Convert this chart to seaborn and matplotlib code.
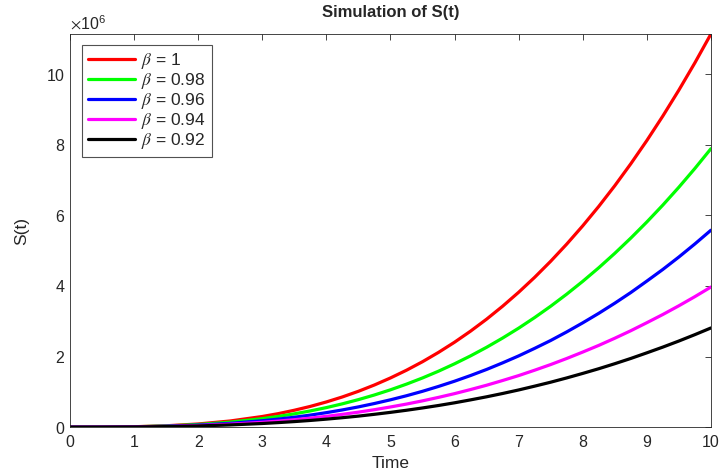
import matplotlib
matplotlib.use("Agg")
import matplotlib.pyplot as plt
import seaborn as sns
import pandas as pd
from matplotlib.ticker import ScalarFormatter

# time grid where values were read
time = [0, 0.5, 1, 1.5, 2, 2.5, 3, 3.25, 3.5, 3.75, 4, 4.25, 4.5, 4.75, 5, 5.25, 5.5, 5.75,
        6, 6.25, 6.5, 6.75, 7, 7.25, 7.5, 7.75, 8, 8.25, 8.5, 8.75, 9, 9.25, 9.5, 9.75, 10]

# S(t) values in units of 1e6
s_b100 = [0, 0.0014, 0.0111, 0.0376, 0.0891, 0.174, 0.301, 0.382, 0.478, 0.587, 0.713, 0.855,
          1.015, 1.194, 1.393, 1.612, 1.853, 2.118, 2.406, 2.720, 3.059, 3.426, 3.821, 4.245,
          4.700, 5.186, 5.704, 6.255, 6.841, 7.463, 8.121, 8.817, 9.551, 10.325, 11.14]
s_b098 = [0, 0.0013, 0.0099, 0.032, 0.074, 0.142, 0.240, 0.303, 0.376, 0.459, 0.553, 0.660,
          0.779, 0.911, 1.057, 1.218, 1.393, 1.585, 1.794, 2.019, 2.262, 2.524, 2.804, 3.105,
          3.426, 3.768, 4.131, 4.516, 4.925, 5.357, 5.813, 6.293, 6.799, 7.331, 7.89]
s_b096 = [0, 0.0011, 0.0079, 0.025, 0.057, 0.107, 0.181, 0.227, 0.280, 0.341, 0.410, 0.487,
          0.573, 0.669, 0.774, 0.889, 1.015, 1.153, 1.301, 1.462, 1.634, 1.821, 2.018, 2.232,
          2.455, 2.698, 2.955, 3.225, 3.512, 3.814, 4.138, 4.469, 4.821, 5.192, 5.58]
s_b094 = [0, 0.0009, 0.0063, 0.0196, 0.0439, 0.0819, 0.1364, 0.171, 0.2099, 0.255, 0.305, 0.362,
          0.424, 0.494, 0.571, 0.653, 0.744, 0.843, 0.949, 1.065, 1.187, 1.321, 1.460, 1.613,
          1.773, 1.945, 2.127, 2.316, 2.519, 2.732, 2.959, 3.192, 3.439, 3.698, 3.97]
s_b092 = [0, 0.0007, 0.005, 0.0152, 0.0336, 0.0622, 0.1025, 0.128, 0.1566, 0.189, 0.226, 0.267,
          0.312, 0.363, 0.418, 0.478, 0.543, 0.613, 0.689, 0.772, 0.859, 0.953, 1.053, 1.161,
          1.273, 1.394, 1.522, 1.655, 1.797, 1.946, 2.105, 2.268, 2.440, 2.621, 2.81]

labels = [r"$\beta$ = 1", r"$\beta$ = 0.98", r"$\beta$ = 0.96", r"$\beta$ = 0.94", r"$\beta$ = 0.92"]
colors = ["#ff0000", "#00ff00", "#0000ff", "#ff00ff", "#000000"]
series = [s_b100, s_b098, s_b096, s_b094, s_b092]

rows = []
for lab, vals in zip(labels, series):
    for t, v in zip(time, vals):
        rows.append({"Time": t, "S": v * 1e6, "beta": lab})
df = pd.DataFrame(rows)

sns.set_style("white")
plt.rcParams["font.family"] = ["Liberation Sans", "DejaVu Sans"]
plt.rcParams["mathtext.fontset"] = "stix"

fig = plt.figure(figsize=(7.21, 4.73), dpi=100)
ax = fig.add_axes([0.097, 0.097, 0.889, 0.831])

sns.lineplot(data=df, x="Time", y="S", hue="beta", hue_order=labels,
             palette=dict(zip(labels, colors)), linewidth=2.3, ax=ax, legend=True)

ax.set_xlim(0, 10)
ax.set_ylim(0, 11.14e6)
ax.set_xticks(range(0, 11))
ax.set_yticks([0, 2e6, 4e6, 6e6, 8e6, 10e6])

fmt = ScalarFormatter(useMathText=True)
fmt.set_powerlimits((6, 6))
ax.yaxis.set_major_formatter(fmt)
ax.yaxis.get_offset_text().set_fontsize(11.5)
ax.yaxis.get_offset_text().set_color("#262626")

ax.tick_params(direction="in", length=4, width=0.6, labelsize=11.5,
               top=True, right=True, colors="#262626", labelcolor="#262626")
ax.tick_params(axis="x", pad=6)
for sp in ax.spines.values():
    sp.set_color("#262626")
    sp.set_linewidth(0.6)

ax.set_xlabel("Time", fontsize=12.5, color="#262626", labelpad=4)
ax.set_ylabel("S(t)", fontsize=12.5, color="#262626", labelpad=12)
ax.set_title("Simulation of S(t)", fontsize=12, fontweight="bold", pad=12)

leg = ax.legend(loc="upper left", bbox_to_anchor=(0.019, 0.972), borderaxespad=0,
                fontsize=12.5, frameon=True, fancybox=False, handlelength=2.7,
                handletextpad=0.35, labelspacing=0.0, borderpad=0.35, title=None)
leg.get_frame().set_edgecolor("#262626")
leg.get_frame().set_linewidth(0.8)
for t in leg.get_texts():
    t.set_color("#262626")

fig.savefig("out.png", dpi=100)
